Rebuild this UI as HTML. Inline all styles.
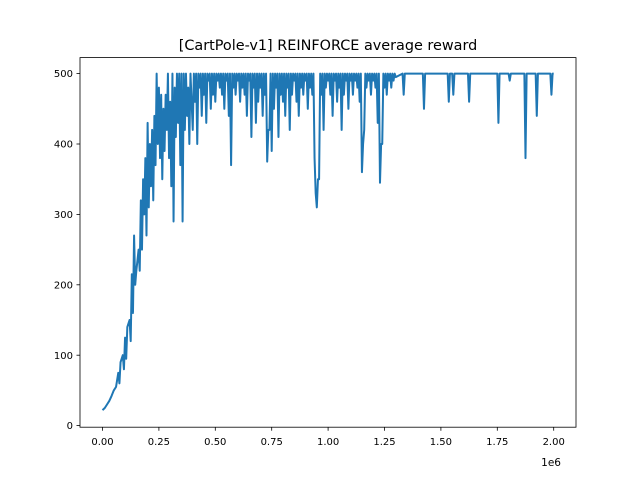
<!DOCTYPE html>
<html><head><meta charset="utf-8">
<style>
body{margin:0;background:#fff;}
svg{display:block;font-family:"DejaVu Sans","Liberation Sans",sans-serif;}
</style></head>
<body>
<svg id="chart" width="640" height="480" viewBox="0 0 640 480">
<rect width="640" height="480" fill="#fff"/>
<text x="328" y="50" font-size="14.4" text-anchor="middle">[CartPole-v1] REINFORCE average reward</text>
<g id="plot"></g>
<rect x="80" y="57.6" width="496" height="369.6" fill="none" stroke="#000" stroke-width="0.8"/>
<g id="xticks"></g><g id="yticks"></g>
<text x="561" y="466" font-size="10.5" text-anchor="end">1e6</text>
</svg>
<script>
const steps=[0,0.01,0.02,0.03,0.04,0.05,0.06,0.07,0.075,0.08,0.09,0.095,0.1,0.105,0.11,0.12,0.125,0.13,0.135,0.14,0.145,0.15,0.16,0.165,0.17,0.175,0.18,0.185,0.19,0.195,0.2,0.205,0.21,0.215,0.22,0.225,0.23,0.235,0.24,0.245,0.25,0.255,0.26,0.265,0.27,0.275,0.28,0.285,0.29,0.295,0.3,0.305,0.31,0.315,0.32,0.325,0.33,0.335,0.34,0.345,0.35,0.355,0.36,0.365,0.37,0.375,0.38,0.385,0.39,0.395,
0.4,0.405,0.41,0.415,0.42,0.425,0.43,0.435,0.44,0.445,0.45,0.455,0.46,0.465,0.47,0.475,0.48,0.485,0.49,0.495,0.5,0.505,0.51,0.515,0.52,0.525,0.53,0.535,0.54,0.545,0.55,0.555,0.56,0.565,0.57,0.575,0.58,0.585,0.59,0.595,0.6,0.605,0.61,0.615,0.62,0.625,0.63,0.635,0.64,0.645,0.65,0.655,0.66,0.665,0.67,0.675,0.68,0.685,0.69,0.695,0.7,0.705,0.71,0.715,0.72,0.725,0.73,0.735,0.74,0.745,0.75,0.755,0.76,0.765,0.77,0.775,0.78,0.785,0.79,0.795,0.8,0.805,0.81,0.815,0.82,0.825,0.83,0.835,0.84,0.845,0.85,0.855,0.86,0.865,0.87,0.875,0.88,0.885,0.89,0.895,0.9,0.905,0.91,0.915,0.92,0.925,0.93,0.935,0.94,0.945,0.95,0.955,0.96,0.965,0.97,0.975,0.98,0.985,0.99,0.995,1.0,1.005,1.01,1.015,1.02,1.025,1.03,1.035,1.04,1.045,1.05,1.055,1.06,1.065,1.07,1.075,1.08,1.085,1.09,1.095,1.1,1.105,1.11,1.115,1.12,1.125,1.13,1.135,1.14,1.145,1.15,1.155,1.16,1.165,1.17,1.175,1.18,1.185,1.19,1.195,1.2,1.205,1.21,1.215,1.22,1.225,1.23,1.235,1.24,1.245,1.25,1.255,1.26,1.265,1.27,1.275,1.28,1.285,1.29,1.295,1.3,
1.33,1.335,1.34,1.42,1.425,1.43,1.53,1.535,1.54,1.55,1.555,1.56,1.62,1.625,1.63,1.75,1.755,1.76,1.8,1.805,1.81,1.87,1.875,1.88,1.92,1.925,1.93,1.985,1.99,1.995,2.0];
const rewards=[22,25,30,35,42,50,55,75,60,90,100,80,125,95,140,150,120,215,160,270,200,220,250,220,320,250,350,300,380,270,430,310,400,340,420,320,440,370,500,400,480,380,470,350,450,390,470,420,500,380,460,340,500,290,480,410,500,430,500,370,500,290,500,420,500,440,480,400,500,460,
420,500,460,500,400,500,480,500,440,500,470,500,430,500,490,500,450,500,470,500,460,500,490,500,480,500,470,500,450,500,490,500,440,500,370,500,480,500,470,500,490,500,460,500,480,500,470,500,440,500,490,500,410,500,480,500,430,500,460,500,480,500,440,500,470,500,375,420,420,500,390,500,450,500,480,500,410,500,470,500,460,500,440,500,480,500,420,500,470,500,490,500,460,500,440,500,480,500,470,500,490,500,450,500,480,500,470,500,380,330,310,350,350,500,470,500,420,500,480,500,490,500,470,500,440,500,490,500,460,500,480,500,420,500,470,500,490,500,450,500,490,500,470,500,490,500,480,500,460,500,360,400,420,500,480,500,490,500,470,500,490,500,480,500,430,500,345,400,400,500,480,500,470,500,490,500,480,500,490,500,495,
500,470,500,500,450,500,500,460,500,500,470,500,500,460,500,500,430,500,500,490,500,500,380,500,500,440,500,500,470,500,500];
const xTicks=[0,0.25,0.5,0.75,1.0,1.25,1.5,1.75,2.0];
const xTickLabels=["0.00","0.25","0.50","0.75","1.00","1.25","1.50","1.75","2.00"];
const yTicks=[0,100,200,300,400,500];
const NS="http://www.w3.org/2000/svg";
function xs(v){return 102.5+v*225.6;}
function ys(v){return 425.6-v*0.704;}
const plot=document.getElementById('plot');
let d="";
for(let i=0;i<steps.length;i++){d+=(i?"L":"M")+xs(steps[i]).toFixed(2)+","+ys(rewards[i]).toFixed(2);}
const line=document.createElementNS(NS,'path');


line.setAttribute('d',d);line.setAttribute('fill','none');line.setAttribute('stroke','#1f77b4');line.setAttribute('stroke-width','2');line.setAttribute('stroke-linejoin','round');
plot.appendChild(line);
const xg=document.getElementById('xticks');
xTicks.forEach((t,i)=>{
 const l=document.createElementNS(NS,'line');
 
 
 l.setAttribute('x1',xs(t));l.setAttribute('x2',xs(t));l.setAttribute('y1',427.2);l.setAttribute('y2',430.7);l.setAttribute('stroke','#000');l.setAttribute('stroke-width','0.8');xg.appendChild(l);
 const tx=document.createElementNS(NS,'text');
 
 
 tx.setAttribute('x',xs(t));tx.setAttribute('y',445);tx.setAttribute('font-size','10');tx.setAttribute('text-anchor','middle');tx.textContent=xTickLabels[i];xg.appendChild(tx);
});
const yg=document.getElementById('yticks');
yTicks.forEach(t=>{
 const l=document.createElementNS(NS,'line');
 
 
 l.setAttribute('x1',76.5);l.setAttribute('x2',80);l.setAttribute('y1',ys(t));l.setAttribute('y2',ys(t));l.setAttribute('stroke','#000');l.setAttribute('stroke-width','0.8');yg.appendChild(l);
 const tx=document.createElementNS(NS,'text');
 
 
 tx.setAttribute('x',73);tx.setAttribute('y',ys(t)+3.6);tx.setAttribute('font-size','10');tx.setAttribute('text-anchor','end');tx.textContent=t;yg.appendChild(tx);
});
</script>
</body></html>
